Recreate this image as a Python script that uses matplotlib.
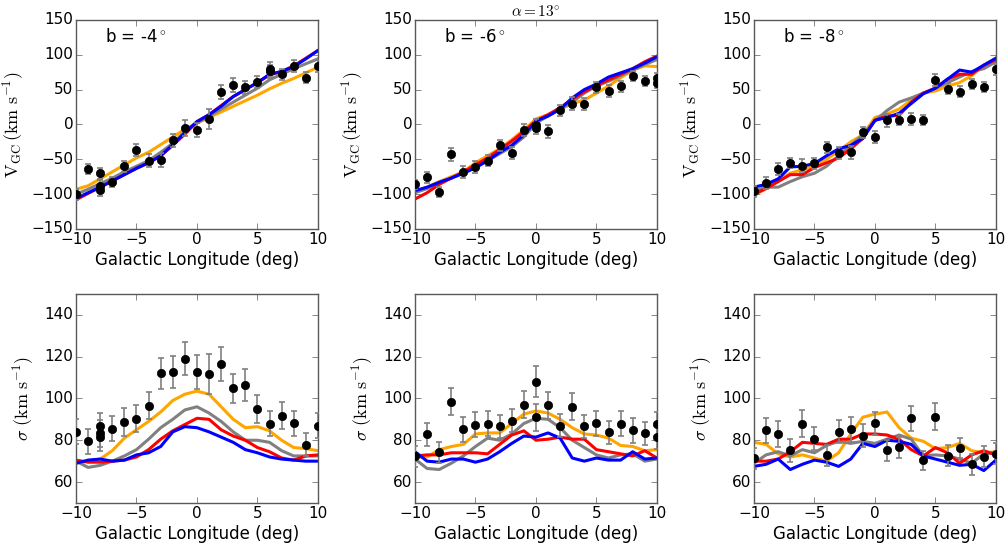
import matplotlib
matplotlib.use("Agg")
import matplotlib.pyplot as plt
import numpy as np

plt.style.use("classic")
plt.rcParams["figure.facecolor"] = "white"
plt.rcParams["savefig.facecolor"] = "white"
plt.rcParams["mathtext.fontset"] = "cm"
plt.rcParams["font.family"] = ["DejaVu Sans"]

lon = list(range(-10, 11))

# ---------------- data points: top row (V_GC) ----------------
v4_l = [-10, -9, -8, -8, -8, -7, -6, -5, -4, -3, -2, -1, 0, 1, 2, 3, 4, 5, 6, 6, 7, 8, 9, 10]
v4_v = [-100, -64, -70, -88, -94, -83, -60, -37, -52, -51, -23, -5, -8, 8, 47, 57, 53, 61, 80, 76, 72, 84, 67, 84]
v4_e = [8, 7, 8, 8, 9, 7, 8, 9, 9, 10, 9, 11, 10, 14, 10, 10, 10, 9, 10, 9, 8, 9, 8, 9]

v6_l = [-10, -9, -8, -7, -6, -5, -4, -3, -2, -1, 0, 0, 1, 2, 3, 4, 5, 6, 7, 8, 9, 10, 10]
v6_v = [-86, -76, -97, -43, -68, -61, -52, -30, -41, -8, -1, -5, -10, 20, 30, 29, 53, 48, 55, 69, 62, 67, 60]
v6_e = [7, 8, 7, 9, 9, 8, 8, 8, 8, 8, 9, 9, 9, 8, 9, 9, 8, 8, 8, 7, 7, 7, 8]

v8_l = lon
v8_v = [-96, -84, -64, -55, -59, -56, -33, -41, -40, -11, -18, 6, 7, 8, 6, 64, 51, 47, 58, 54, 79]
v8_e = [8, 8, 9, 7, 9, 8, 8, 8, 9, 8, 9, 9, 8, 9, 7, 9, 8, 8, 7, 7, 8]

# ---------------- model curves: top row ----------------
v4_orange = [-93, -88, -78, -68, -58, -48, -40, -29, -18, -7, 2, 10, 18, 26, 34, 42, 51, 59, 66, 74, 82]
v4_gray = [-100, -93, -85, -77, -68, -60, -52, -40, -27, -10, 2, 12, 22, 32, 42, 52, 64, 72, 80, 87, 94]
v4_red = [-108, -99, -90, -81, -72, -63, -55, -45, -30, -14, 4, 14, 27, 40, 50, 60, 71, 76, 84, 95, 106]
v4_blue = [-106, -98, -90, -81, -72, -63, -55, -45, -29, -12, 4, 14, 26, 40, 50, 60, 72, 76, 83, 94, 106]

v6_orange = [-97, -90, -82, -75, -68, -55, -45, -35, -22, -8, 8, 14, 22, 30, 35, 45, 55, 67, 78, 84, 83]
v6_gray = [-98, -92, -84, -77, -70, -62, -52, -42, -32, -18, 2, 12, 22, 32, 45, 55, 62, 70, 78, 86, 93]
v6_red = [-107, -98, -86, -77, -68, -58, -48, -36, -24, -10, 5, 14, 24, 36, 47, 56, 64, 72, 80, 90, 98]
v6_blue = [-95, -90, -83, -77, -70, -62, -52, -40, -30, -15, 5, 12, 22, 38, 50, 58, 68, 74, 80, 88, 97]

v8_orange = [-102, -92, -80, -70, -65, -60, -50, -38, -25, -15, 10, 15, 22, 35, 45, 48, 55, 60, 70, 85, 95]
v8_gray = [-96, -90, -90, -82, -75, -70, -60, -45, -30, -15, 5, 20, 32, 38, 45, 52, 60, 68, 76, 80, 90]
v8_red = [-100, -92, -82, -72, -72, -62, -55, -48, -35, -20, 6, 12, 13, 32, 45, 52, 65, 72, 72, 85, 93]
v8_blue = [-90, -86, -78, -61, -60, -56, -45, -35, -30, -20, 6, 10, 16, 30, 44, 52, 65, 78, 75, 85, 95]

# ---------------- data points: bottom row (sigma) ----------------
s4_l = [-10, -9, -8, -8, -8, -7, -6, -5, -4, -3, -2, -1, 0, 1, 2, 3, 4, 5, 6, 7, 8, 9, 10]
s4_v = [84, 79.6, 86.6, 83.3, 81.4, 85.5, 88.7, 90.3, 96.5, 112, 112.7, 119, 112.7, 111.8, 116.4, 104.8, 106.4, 94.9, 87.9, 91.7, 88.2, 77.8, 87]
s4_e = [6, 6, 6.5, 6.5, 6.5, 6, 6.5, 6.5, 6.5, 7.5, 7.5, 8, 8, 9.5, 8, 7, 7.5, 6.5, 6, 6.5, 6, 5.5, 6]

s6_l = [-10, -9, -8, -7, -6, -5, -4, -3, -2, -1, 0, 0, 1, 2, 3, 4, 5, 6, 7, 8, 9, 10, 10]
s6_v = [72.3, 82.8, 74.2, 98.4, 85.2, 87.4, 88, 86.8, 89.3, 97, 108, 90.9, 96.7, 87, 96, 86.8, 88.2, 83.9, 87.9, 84.7, 83.3, 87.7, 81.5]
s6_e = [5, 5.5, 5, 6.5, 6, 6, 6, 5.5, 5.5, 6.5, 7.5, 6.5, 6.5, 5.5, 6.5, 5.5, 6, 5.5, 6, 6, 5.5, 6, 5.5]

s8_l = lon
s8_v = [71.3, 84.7, 83, 75.1, 87.9, 80.6, 72.8, 84.1, 85.2, 82.2, 88.2, 75.3, 76.7, 90.4, 70.5, 91.2, 72.6, 76.3, 68.4, 72.1, 73.5]
s8_e = [5, 6, 6, 5.5, 6.5, 5.5, 5, 5.5, 6, 5.5, 5.5, 5, 5, 6, 4.5, 6.5, 5, 5, 5, 5, 5]

# ---------------- model curves: bottom row ----------------
s4_orange = [69, 70, 71, 75, 81, 85, 89, 93.5, 99, 102, 103.5, 102, 96, 90, 86, 86.5, 84.5, 80, 76.5, 76, 75]
s4_gray = [70, 67, 68, 70, 72.5, 75.5, 80.5, 86, 90, 94.5, 96, 93, 89, 84, 80, 80, 79, 75, 72.5, 72.5, 72.5]
s4_red = [70.5, 69.5, 69.5, 70, 70.5, 72, 75.5, 80.5, 84.5, 87.5, 90.5, 90, 85, 82, 80, 76.5, 74.5, 71.5, 70.5, 72.5, 73]
s4_blue = [69, 70.5, 71, 70, 70.5, 73, 74, 77, 84, 86.5, 86, 84, 81.5, 79, 75.5, 74, 72, 71, 70.5, 70, 70]

s6_orange = [72, 72, 75.5, 77, 78, 83, 83.5, 83.5, 88, 92.5, 94, 93, 90, 86, 83, 82.5, 81, 77.5, 77, 75, 75.5]
s6_gray = [71, 66.5, 66, 69, 72.5, 77, 81, 80, 83, 88, 90.5, 90, 86, 80, 76.5, 73, 71.5, 73, 73.5, 70, 71]
s6_red = [72.5, 73, 73, 74, 74, 74, 73.5, 78, 82.5, 84.5, 80, 80.5, 81.5, 80.5, 80.5, 75.5, 74.5, 73.5, 72.5, 75, 71.5]
s6_blue = [74.5, 70, 69.5, 71, 71, 69.5, 71, 74.5, 78.5, 82, 81.5, 83.5, 81, 71.5, 70, 71.5, 70.5, 70.5, 74.5, 71, 71.5]

s8_orange = [79, 78, 73.5, 72, 73, 71.5, 70, 74, 83, 91, 92.5, 93.5, 86, 81, 79.5, 76, 76.5, 78.5, 75, 74, 74.5]
s8_gray = [69, 73, 74.5, 72.5, 75.5, 74, 77.5, 79.5, 78.5, 79.5, 78.5, 80.5, 82.5, 80.5, 72.5, 73, 72.5, 71, 69, 73.5, 74]
s8_red = [70, 70, 71, 74.5, 79, 78.5, 78, 80.5, 80.5, 83, 83, 82.5, 80.5, 75.5, 72.5, 76.5, 74, 69, 73, 75, 73]
s8_blue = [67.5, 68.5, 71, 66, 68.5, 70.5, 69.5, 67.5, 71, 78.5, 77, 80, 79.5, 78, 72.5, 71, 69.5, 68, 68.5, 65.5, 70.5]

panel_labels = ["b = -4$^\\circ$", "b = -6$^\\circ$", "b = -8$^\\circ$"]
xticks = [-10, -5, 0, 5, 10]
vticks = [-150, -100, -50, 0, 50, 100, 150]
sticks = [60, 80, 100, 120, 140]

top_sets = [
    (v4_l, v4_v, v4_e, v4_orange, v4_gray, v4_red, v4_blue),
    (v6_l, v6_v, v6_e, v6_orange, v6_gray, v6_red, v6_blue),
    (v8_l, v8_v, v8_e, v8_orange, v8_gray, v8_red, v8_blue),
]
bot_sets = [
    (s4_l, s4_v, s4_e, s4_orange, s4_gray, s4_red, s4_blue),
    (s6_l, s6_v, s6_e, s6_orange, s6_gray, s6_red, s6_blue),
    (s8_l, s8_v, s8_e, s8_orange, s8_gray, s8_red, s8_blue),
]

fig = plt.figure(figsize=(10.08, 5.46), dpi=100)
lefts = [0.0754, 0.4117, 0.748]
w, h = 0.240, 0.383
bottoms = [0.5806, 0.0788]
line_colors = ["orange", "gray", "red", "blue"]


def style_axes(ax):
    for sp in ax.spines.values():
        sp.set_color("0.35")
    ax.tick_params(which="both", direction="in", colors="0.35", labelcolor="black",
                   labelsize=11, top=True, right=True, pad=2)
    ax.set_xlim(-10, 10)
    ax.set_xticks(xticks)
    ax.set_xlabel("Galactic Longitude (deg)", fontsize=12, labelpad=3)


for row, sets in enumerate([top_sets, bot_sets]):
    for col, (dl, dv, de, o, g, r, b) in enumerate(sets):
        ax = fig.add_axes([lefts[col], bottoms[row], w, h])
        for curve, c in zip([o, g, r, b], line_colors):
            ax.plot(lon, curve, color=c, lw=2.2, zorder=2)
        ax.errorbar(dl, dv, yerr=de, fmt="o", color="black", mec="black", ms=6,
                    ecolor="gray", elinewidth=1.2, capsize=2.5, capthick=1.2, zorder=3,
                    clip_on=True)
        style_axes(ax)
        if row == 0:
            ax.set_ylim(-150, 150)
            ax.set_yticks(vticks)
            ax.set_ylabel(r"$\rm V_{GC}\,(km\ s^{-1})$", fontsize=13, labelpad=4)
            ax.text(0.12, 0.92, panel_labels[col], transform=ax.transAxes,
                    fontsize=12, va="center", ha="left")
            if col == 1:
                ax.set_title(r"$\alpha = 13^{\circ}$", fontsize=11, pad=3)
        else:
            ax.set_ylim(50, 150)
            ax.set_yticks(sticks)
            ax.set_ylabel(r"$\sigma\ (\rm km\ s^{-1})$", fontsize=13, labelpad=6)

fig.savefig("out.png", dpi=100)
